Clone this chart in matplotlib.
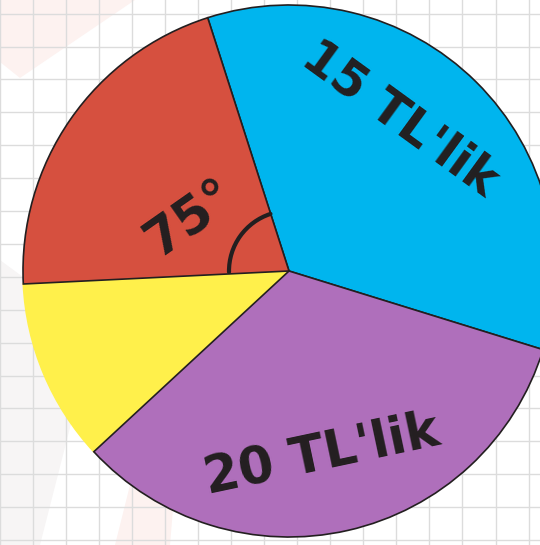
import matplotlib
matplotlib.use("Agg")
import matplotlib.pyplot as plt
from matplotlib.patches import Arc, Polygon

# ---- data (slice angles in degrees) ----
categories = ["15 TL'lik", "kırmızı", "sarı", "20 TL'lik"]
angles = [125, 75, 40, 120]
colors = ["#00B5EE", "#D6503F", "#FFF04B", "#AF6FBB"]
slice_labels = ["15 TL'lik", "", "", "20 TL'lik"]
angle_label = "75°"

W, H = 540, 545
fig = plt.figure(figsize=(W / 100, H / 100), dpi=100)
ax = fig.add_axes([0, 0, 1, 1])
fig.patch.set_facecolor("white")

# faint watermark shapes
ax.add_patch(Polygon([(0, H), (135, H), (20, H - 78), (0, H - 62)], closed=True,
                     facecolor="#FDF2F0", edgecolor="none", zorder=0))
ax.add_patch(Polygon([(0, H - 260), (0, 0), (40, 0), (95, H - 330)], closed=True,
                     facecolor="#F7F5F5", edgecolor="none", zorder=0))
ax.add_patch(Polygon([(115, 0), (170, 0), (175, 60), (130, 60)], closed=True,
                     facecolor="#FDF2F0", edgecolor="none", zorder=0))

# grid background
for k in range(-1, 18):
    ax.axvline(32.7 + 33.06 * k, color="#DCDCDC", lw=1.0, zorder=1)
for k in range(-1, 18):
    ax.axhline(H - (13.6 + 32.9 * k), color="#DCDCDC", lw=1.0, zorder=1)

cx, cy, R = 289, H - 271, 266
wedges, _ = ax.pie(angles, colors=colors, startangle=-17.2, counterclock=True,
                   center=(cx, cy), radius=R, frame=True,
                   wedgeprops=dict(edgecolor="#231F20", linewidth=1.2))
for w in wedges:
    w.set_zorder(3)
wedges[2].set_edgecolor(colors[2])
wedges[2].set_zorder(2)
ax.set_xlim(0, W)
ax.set_ylim(0, H)
ax.axis("off")

txt = dict(color="#231F20", fontsize=35, fontweight="bold",
           family="DejaVu Sans", ha="center", va="center",
           rotation_mode="anchor", zorder=5)
ax.text(400, H - 119, slice_labels[0], rotation=-36, **txt)
ax.text(322, H - 455, slice_labels[3], rotation=12, **{**txt, "fontsize": 36.5})
ax.text(190, H - 218, angle_label, rotation=35, **{**txt, "fontsize": 37})

# angle marker arc
ax.add_patch(Arc((cx, cy), 2 * 60, 2 * 60, theta1=108, theta2=181,
                 color="#231F20", lw=3.0, capstyle="round", zorder=4))

fig.savefig("out.png", dpi=100, facecolor="white")
